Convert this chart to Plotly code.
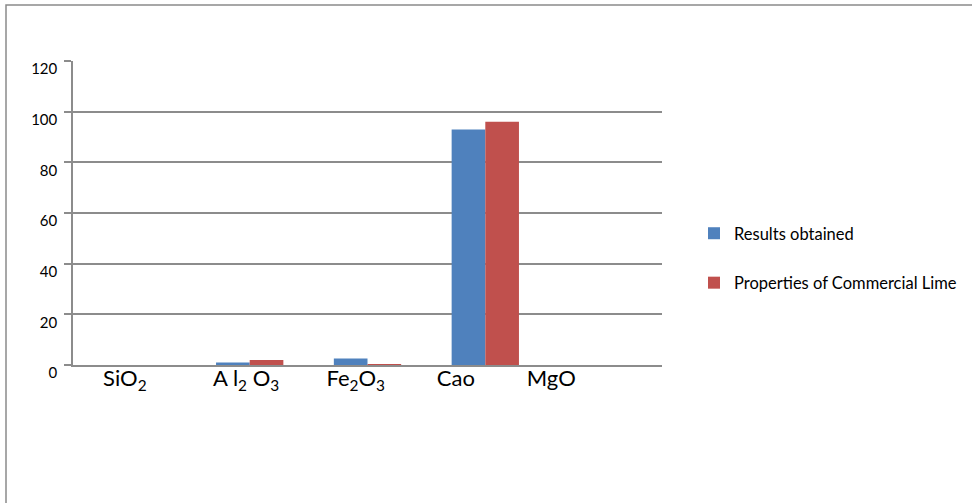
import plotly.graph_objects as go

# Oxide composition (%)
oxides = ["SiO<sub>2</sub>", "A l<sub>2</sub> O<sub>3</sub>", "Fe<sub>2</sub>O<sub>3</sub>", "Cao", "MgO"]
results_obtained = [0, 1.0, 2.6, 93, 0]
commercial_lime = [0, 2.0, 0.3, 96, 0]
label_offsets = [-0.06, -0.03, -0.10, -0.25, -0.44]
y_ticks = [0, 20, 40, 60, 80, 100, 120]

positions = list(range(len(oxides)))
label_pos = [p + o for p, o in zip(positions, label_offsets)]

W, H = 972, 503
L, R, T, B = 73, 310, 61, 138
pw, ph = W - L - R, H - T - B

fig = go.Figure()
fig.add_trace(go.Bar(x=positions, y=results_obtained, name="Results obtained",
                     marker=dict(color="#4F81BD", line=dict(width=0)), legendgroup="a"))
fig.add_trace(go.Bar(x=positions, y=commercial_lime, name="Properties of Commercial Lime",
                     marker=dict(color="#C0504D", line=dict(width=0)), legendgroup="b"))

grid = "#8c8c8c"
fig.update_layout(
    width=W, height=H,
    margin=dict(l=L, r=R, t=T, b=B, pad=0, autoexpand=False),
    paper_bgcolor="white", plot_bgcolor="white",
    barmode="group", bargap=1.5 / 3.5, bargroupgap=0,
    font=dict(family="Lato, Open Sans, sans-serif", color="#000000"),
    showlegend=True,
    legend=dict(x=(694 - L) / pw, y=(365 - 216) / ph, xanchor="left", yanchor="top",
                font=dict(size=16.5, color="#000"), tracegroupgap=25,
                itemwidth=30, bgcolor="rgba(0,0,0,0)"),
    xaxis=dict(range=[-0.5, len(oxides) - 0.5], tickmode="array", tickvals=label_pos,
               ticktext=oxides, ticks="", showgrid=False, zeroline=False,
               showline=True, linecolor=grid, linewidth=1.5, automargin=False,
               tickfont=dict(size=22, color="#000"), ticklabelstandoff=-7),
    yaxis=dict(range=[0, 120], tickmode="array", tickvals=y_ticks,
               ticks="outside", ticklen=7, tickcolor=grid, tickwidth=1.5,
               showgrid=True, gridcolor=grid, gridwidth=1.5, automargin=False,
               showline=True, linecolor=grid, linewidth=1.5, zeroline=False,
               tickfont=dict(size=15, color="#000"), ticklabelstandoff=4,
               ticklabelshift=8),
)

# Outer chart frame
fig.add_shape(type="rect", xref="paper", yref="paper",
              x0=(6 - L) / pw, x1=(990 - L) / pw,
              y0=(365 - 520) / ph, y1=(365 - 5) / ph,
              line=dict(color="#8a8a8a", width=1.5), fillcolor="rgba(0,0,0,0)", layer="below")

fig.write_html("out.html")
